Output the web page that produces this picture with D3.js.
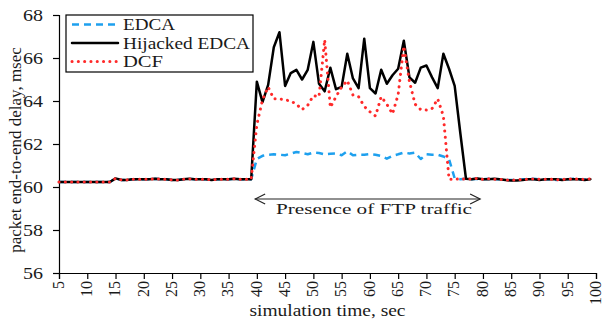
<!DOCTYPE html>
<html><head><meta charset="utf-8">
<script src="https://cdn.jsdelivr.net/npm/d3@7"></script>
<style>body{margin:0;background:#fff} svg{display:block}</style>
</head><body>
<script>
const times = [5,6,7,8,9,10,11,12,13,14,15,16,17,18,19,20,21,22,23,24,25,26,27,28,29,30,31,32,33,34,35,36,37,38,39,
 40,41,42,43,44,45,46,47,48,49,50,51,52,53,54,55,56,57,58,59,60,61,62,63,64,65,66,67,68,69,70,71,72,73,74,75,76,77,78,79,
 80,81,82,83,84,85,86,87,88,89,90,91,92,93,94,95,96,97,98,99];

const edca = [60.23,60.23,60.23,60.23,60.23,60.23,60.23,60.23,60.23,60.23,
 60.40,60.33,60.33,60.36,60.36,60.36,60.36,60.38,60.36,60.36,
 60.33,60.33,60.36,60.38,60.36,60.36,60.36,60.33,60.36,60.36,
 60.36,60.38,60.36,60.36,60.36,
 61.30,61.45,61.50,61.52,61.50,61.48,61.55,61.63,61.58,61.52,
 61.60,61.58,61.52,61.55,61.56,61.48,61.66,61.48,61.50,61.50,
 61.53,61.50,61.44,61.32,61.45,61.52,61.60,61.56,61.60,61.30,
 61.52,61.50,61.50,61.42,61.30,60.40,60.36,60.38,60.36,60.38,
 60.36,60.38,60.36,60.36,60.33,60.33,60.33,60.36,60.36,60.38,
 60.36,60.36,60.36,60.33,60.36,60.36,60.38,60.36,60.36,60.38];

const hijacked = [60.23,60.23,60.23,60.23,60.23,60.23,60.23,60.23,60.23,60.23,
 60.40,60.33,60.33,60.36,60.36,60.36,60.36,60.38,60.36,60.36,
 60.33,60.33,60.36,60.38,60.36,60.36,60.36,60.33,60.36,60.36,
 60.36,60.38,60.36,60.36,60.36,
 64.90,63.95,64.75,66.50,67.20,64.70,65.30,65.45,65.00,65.45,
 66.75,64.80,64.45,65.55,64.55,64.65,66.20,65.05,64.60,66.90,
 64.60,64.35,65.45,64.80,65.20,65.50,66.80,65.10,64.85,65.55,
 65.65,65.10,64.60,66.20,65.50,64.70,62.50,60.38,60.36,60.40,
 60.36,60.36,60.38,60.36,60.33,60.30,60.30,60.33,60.36,60.36,
 60.33,60.36,60.36,60.36,60.33,60.36,60.36,60.36,60.33,60.36];

const dcf = [60.23,60.23,60.23,60.23,60.23,60.23,60.23,60.23,60.23,60.23,
 60.40,60.33,60.33,60.36,60.36,60.36,60.36,60.38,60.36,60.36,
 60.33,60.33,60.36,60.38,60.36,60.36,60.36,60.33,60.36,60.36,
 60.36,60.38,60.36,60.36,60.36,
 62.90,64.05,64.65,64.10,64.10,64.05,64.00,63.85,63.60,63.80,
 64.25,64.20,66.85,63.70,64.20,64.65,64.95,64.28,64.20,63.75,
 63.50,63.30,64.20,63.85,63.40,64.30,66.55,64.90,63.85,63.60,
 63.58,63.65,64.10,63.30,60.36,60.36,60.38,60.36,60.38,60.40,
 60.36,60.38,60.36,60.36,60.33,60.33,60.33,60.36,60.36,60.38,
 60.36,60.36,60.36,60.33,60.36,60.36,60.38,60.36,60.36,60.38];

const seriesNames = ["EDCA", "Hijacked EDCA", "DCF"];
const xTicks = [5,10,15,20,25,30,35,40,45,50,55,60,65,70,75,80,85,90,95,100];
const yTicks = [56,58,60,62,64,66,68];
const xTitle = "simulation time, sec";
const yTitle = "packet end-to-end delay, msec";
const noteText = "Presence of FTP traffic";

const W = 604, H = 320;
const svg = d3.select("body").append("svg").attr("width", W).attr("height", H);
const x = d3.scaleLinear().domain([5, 100]).range([59, 596]);
const y = d3.scaleLinear().domain([56, 68]).range([273, 15]);
const font = "'Liberation Serif', 'Times New Roman', serif";
const ink = "#1a1a1a";

// axes
const xAxis = svg.append("g").attr("transform", `translate(0,${y(56)})`)
  .call(d3.axisBottom(x).tickValues(xTicks).tickSize(6).tickFormat(""));
const yAxis = svg.append("g").attr("transform", `translate(${x(5)},0)`)
  .call(d3.axisLeft(y).tickValues(yTicks).tickSize(6).tickFormat(""));
[xAxis, yAxis].forEach(g => {
  g.select(".domain").attr("stroke", "#000").attr("stroke-width", 1.2);
  g.selectAll(".tick line").attr("stroke", "#000").attr("stroke-width", 1.2);
});

// y tick labels
svg.append("g").selectAll("text").data(yTicks).join("text")
  .attr("x", 43).attr("y", d => y(d)).attr("dy", "0.35em")
  .attr("text-anchor", "end").attr("font-family", font).attr("font-size", 16.5)
  .attr("fill", ink)
  .attr("textLength", 20).attr("lengthAdjust", "spacingAndGlyphs")
  .text(d => d);

// x tick labels (rotated)
svg.append("g").selectAll("text").data(xTicks).join("text")
  .attr("transform", d => `translate(${x(d)},281) rotate(-90)`)
  .attr("dy", "0.3em")
  .attr("text-anchor", "end").attr("font-family", font).attr("font-size", 16)
  .attr("fill", ink)
  .text(d => d);

// titles
svg.append("text").attr("x", (x(5) + x(100)) / 2).attr("y", 316)
  .attr("text-anchor", "middle").attr("font-family", font).attr("font-size", 16)
  .attr("fill", ink).attr("textLength", 156).attr("lengthAdjust", "spacingAndGlyphs")
  .text(xTitle);
svg.append("text").attr("transform", "translate(21,150) rotate(-90)")
  .attr("text-anchor", "middle").attr("font-family", font).attr("font-size", 17)
  .attr("fill", ink).text(yTitle);

// lines
const mk = vals => d3.line().x((d, i) => x(times[i])).y(d => y(d))(vals);
const styles = [
  {vals: edca, color: "#1ea0ee", width: 2.5, dash: "7 5", cap: "butt"},
  {vals: hijacked, color: "#000", width: 2.5, dash: null, cap: "round"},
  {vals: dcf, color: "#ff2a2a", width: 3, dash: "0.1 6.2", cap: "round"}
];
styles.forEach(s => {
  svg.append("path").attr("d", mk(s.vals)).attr("fill", "none")
    .attr("stroke", s.color).attr("stroke-width", s.width)
    .attr("stroke-linejoin", "round").attr("stroke-linecap", s.cap)
    .attr("stroke-dasharray", s.dash);
});

// legend
const lg = svg.append("g");
lg.append("rect").attr("x", 66).attr("y", 15).attr("width", 187).attr("height", 57)
  .attr("fill", "#fff").attr("stroke", "#000").attr("stroke-width", 1.2);
const legendY = [24.5, 43, 61.5];
const legendLen = [52, 127, 40];
seriesNames.forEach((n, i) => {
  const s = styles[i];
  lg.append("line").attr("x1", 72).attr("x2", 118).attr("y1", legendY[i]).attr("y2", legendY[i])
    .attr("stroke", s.color).attr("stroke-width", s.width)
    .attr("stroke-linecap", s.cap).attr("stroke-dasharray", s.dash);
  lg.append("text").attr("x", 123).attr("y", legendY[i]).attr("dy", "0.36em")
    .attr("font-family", font).attr("font-size", 16).attr("fill", ink)
    .attr("textLength", legendLen[i]).attr("lengthAdjust", "spacingAndGlyphs")
    .text(n);
});

// annotation: double arrow
const ay = 199, ax1 = x(39.7), ax2 = x(79.5);
const ag = svg.append("g").attr("stroke", "#222").attr("stroke-width", 1.2).attr("fill", "none");
ag.append("line").attr("x1", ax1).attr("x2", ax2).attr("y1", ay).attr("y2", ay);
ag.append("path").attr("d", `M${ax1 + 10},${ay - 5} L${ax1},${ay} L${ax1 + 10},${ay + 5}`);
ag.append("path").attr("d", `M${ax2 - 10},${ay - 5} L${ax2},${ay} L${ax2 - 10},${ay + 5}`);
svg.append("text").attr("x", 374).attr("y", 214).attr("text-anchor", "middle")
  .attr("font-family", font).attr("font-size", 15.5).attr("fill", ink)
  .attr("textLength", 196).attr("lengthAdjust", "spacingAndGlyphs")
  .text(noteText);
</script>
</body></html>
